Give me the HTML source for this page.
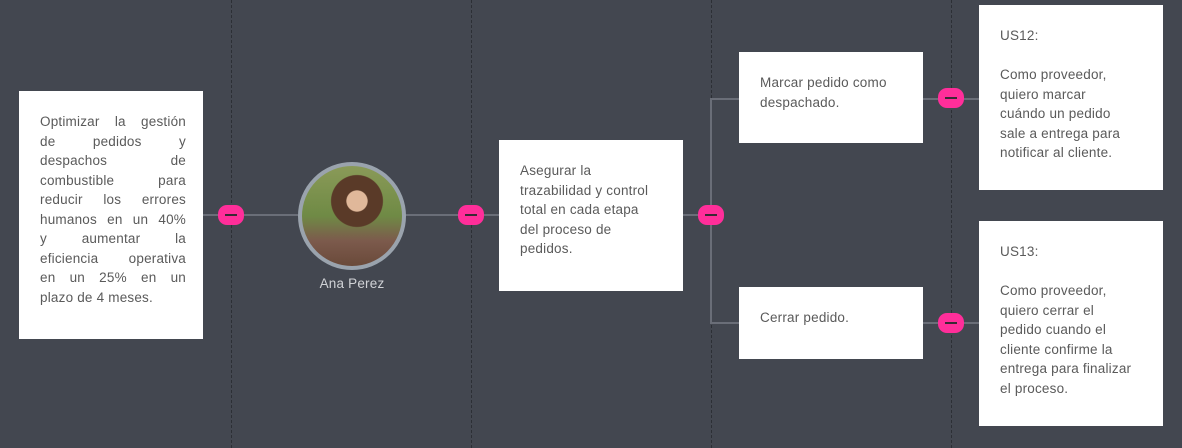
<!DOCTYPE html>
<html><head><meta charset="utf-8"><style>
html,body{margin:0;padding:0}
body{width:1182px;height:448px;background:#434750;position:relative;overflow:hidden;font-family:"Liberation Sans",sans-serif;font-size:13.5px;color:#5a5a5a;letter-spacing:0.2px}
.d{position:absolute;top:0;height:448px;width:0;border-left:1px dashed #2c2f35}
.h{position:absolute;height:2px;background:#6a6e78}
.v{position:absolute;width:2px;background:#6a6e78}
.box{position:absolute;background:#fff;box-sizing:border-box;line-height:19.5px;white-space:nowrap}
.p{position:absolute;width:26px;height:20px;border-radius:9px;background:#ff2e9a}
.p:after{content:"";position:absolute;left:7px;top:9px;width:12px;height:2px;background:#3a2a35}
.j div{text-align:justify;text-align-last:justify;white-space:normal}
.j div.l{text-align-last:left}
</style></head><body>
<div class="d" style="left:231px"></div>
<div class="d" style="left:471px"></div>
<div class="d" style="left:711px"></div>
<div class="d" style="left:951px"></div>

<div class="h" style="left:203px;top:214px;width:95px"></div>
<div class="h" style="left:405px;top:214px;width:94px"></div>
<div class="h" style="left:683px;top:214px;width:28px"></div>
<div class="v" style="left:710px;top:98px;height:226px"></div>
<div class="h" style="left:710px;top:98px;width:29px"></div>
<div class="h" style="left:710px;top:322px;width:29px"></div>
<div class="h" style="left:923px;top:98px;width:56px"></div>
<div class="h" style="left:923px;top:322px;width:56px"></div>

<div class="box j" style="left:19px;top:91px;width:184px;height:248px;padding:21px 17px 0 21px">
<div>Optimizar la gestión</div><div>de pedidos y</div><div>despachos de</div><div>combustible para</div><div>reducir los errores</div><div>humanos en un 40%</div><div>y aumentar la</div><div>eficiencia operativa</div><div>en un 25% en un</div><div class="l">plazo de 4 meses.</div>
</div>

<div style="position:absolute;left:298px;top:162px;width:100px;height:100px;border:4px solid #9aa3ad;border-radius:50%;overflow:hidden;background:radial-gradient(circle at 55% 35%,#e0b89a 0 12%,#5a3a28 13% 30%,transparent 31%),linear-gradient(180deg,#8a9a58 0%,#6f8a45 50%,#7c5a4c 75%,#6a4a3a 100%)"></div>
<div style="position:absolute;left:298px;top:276px;width:108px;text-align:center;color:#d0d2d6;font-size:13.5px">Ana Perez</div>

<div class="box" style="left:499px;top:140px;width:184px;height:151px;padding:21px 10px 0 21px">Asegurar la<br>trazabilidad y control<br>total en cada etapa<br>del proceso de<br>pedidos.</div>
<div class="box" style="left:739px;top:52px;width:184px;height:91px;padding:21px 10px 0 21px">Marcar pedido como<br>despachado.</div>
<div class="box" style="left:739px;top:287px;width:184px;height:72px;padding:21px 10px 0 21px">Cerrar pedido.</div>
<div class="box" style="left:979px;top:5px;width:184px;height:185px;padding:21px 10px 0 21px">US12:<br><br>Como proveedor,<br>quiero marcar<br>cuándo un pedido<br>sale a entrega para<br>notificar al cliente.</div>
<div class="box" style="left:979px;top:221px;width:184px;height:205px;padding:21px 10px 0 21px">US13:<br><br>Como proveedor,<br>quiero cerrar el<br>pedido cuando el<br>cliente confirme la<br>entrega para finalizar<br>el proceso.</div>

<div class="p" style="left:218px;top:205px"></div>
<div class="p" style="left:458px;top:205px"></div>
<div class="p" style="left:698px;top:205px"></div>
<div class="p" style="left:938px;top:88px"></div>
<div class="p" style="left:938px;top:313px"></div>
</body></html>
